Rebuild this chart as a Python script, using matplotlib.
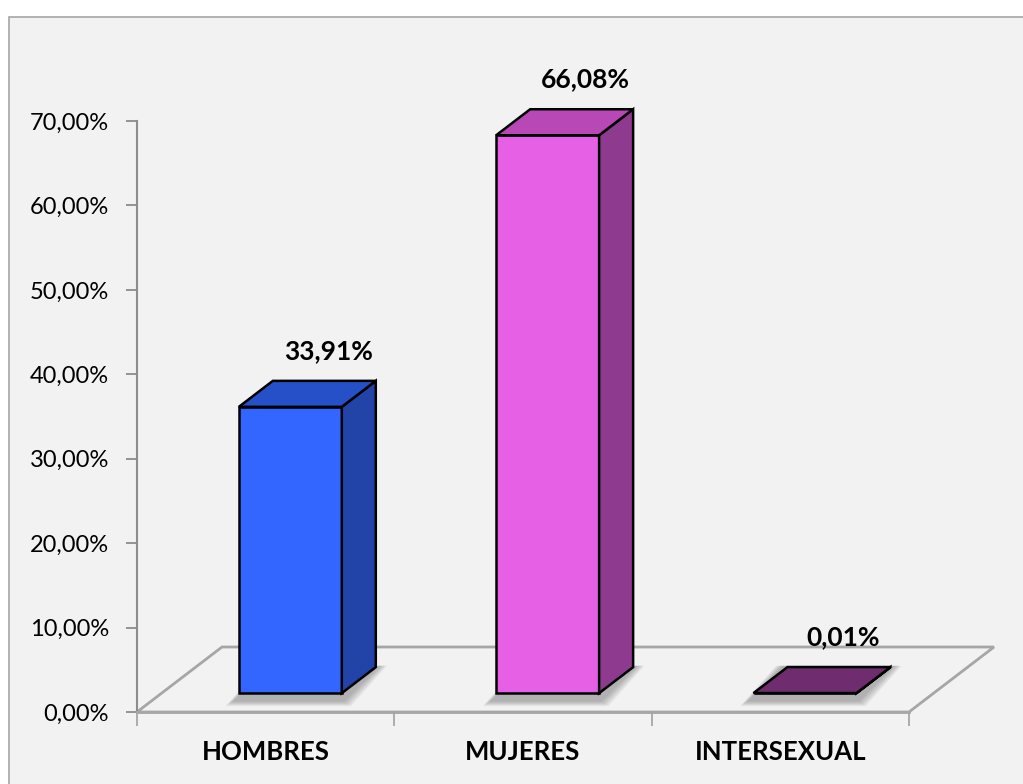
import matplotlib.pyplot as plt
from matplotlib.patches import Polygon, Rectangle
from matplotlib.ticker import FixedLocator, FuncFormatter

categorias = ['HOMBRES', 'MUJERES', 'INTERSEXUAL']
porcentajes = [33.91, 66.08, 0.01]
etiquetas = ['33,91%', '66,08%', '0,01%']

frente = ['#3366FF', '#E660E6', '#8A3A8A']
lado = ['#2244A8', '#8E3A8E', '#6A2A6A']
tapa = ['#2550C8', '#B848B6', '#6F2C6E']

plt.rcParams['font.family'] = ['Lato', 'DejaVu Sans']

fig = plt.figure(figsize=(10.23, 7.84), dpi=100)
fig.patch.set_facecolor('white')

# marco del grafico
fig.patches.append(Rectangle((9 / 1023, -0.05), 1.2, 1 - 17 / 784 + 0.05,
                             transform=fig.transFigure, facecolor='#F2F2F2',
                             edgecolor='#A6A6A6', linewidth=1.2, zorder=-5))

W, H = 1023, 784
ax = fig.add_axes([137 / W, (H - 712) / H, 772 / W, (712 - 121) / H])
ax.set_facecolor('none')
ax.set_xlim(0, 3)
ax.set_ylim(0, 70)

# profundidad del piso en unidades de datos
DX = 85 / (772 / 3)
DY = 65 / ((712 - 121) / 70)
d0, d1 = 0.29, 0.69
ancho = 0.40


def p(x, y, d):
    return (x + d * DX, y + d * DY)


# piso
piso = [p(0, 0, 0), p(3, 0, 0), p(3, 0, 1), p(0, 0, 1)]
ax.add_patch(Polygon(piso, closed=True, facecolor='#F2F2F2', edgecolor='#A6A6A6',
                     linewidth=2, clip_on=False, zorder=1))

for i, (v, lab) in enumerate(zip(porcentajes, etiquetas)):
    c = i + 0.5
    xl, xr = c - ancho / 2, c + ancho / 2
    # sombra suave en la base
    for k in range(8):
        e = 0.004 * (k + 1)
        sombra = [p(xl - 0.02 - e, -0.9 - e * 20, d0), p(xr + 0.005 + e, -0.9 - e * 20, d0),
                  p(xr + 0.005 + e, 0, d1 + 0.02), p(xl - 0.02 - e, 0, d1 + 0.02)]
        ax.add_patch(Polygon(sombra, closed=True, facecolor='#505050', edgecolor='none',
                             alpha=0.06, clip_on=False, zorder=2))
    cara = [p(xl, 0, d0), p(xr, 0, d0), p(xr, v, d0), p(xl, v, d0)]
    costado = [p(xr, 0, d0), p(xr, 0, d1), p(xr, v, d1), p(xr, v, d0)]
    arriba = [p(xl, v, d0), p(xr, v, d0), p(xr, v, d1), p(xl, v, d1)]
    for pts, col in ((cara, frente[i]), (costado, lado[i]), (arriba, tapa[i])):
        ax.add_patch(Polygon(pts, closed=True, facecolor=col, edgecolor='black',
                             linewidth=1.8, joinstyle='miter', clip_on=False, zorder=3))
    tx, ty = p(c + 0.015, v, d1)
    ax.annotate(lab, (tx, ty), xytext=(0, 13), textcoords='offset points',
                ha='center', va='bottom', fontsize=19, fontweight='bold',
                annotation_clip=False, zorder=4)

for lado_eje in ('top', 'right'):
    ax.spines[lado_eje].set_visible(False)
ax.spines['left'].set_color('#8C8C8C')
ax.spines['left'].set_linewidth(1.5)
ax.spines['bottom'].set_color('#A6A6A6')
ax.spines['bottom'].set_linewidth(2)

ax.set_yticks(range(0, 71, 10))
ax.yaxis.set_major_formatter(FuncFormatter(lambda y, _: f'{y:.2f}'.replace('.', ',') + '%'))
ax.tick_params(axis='y', length=8, width=1.3, color='#8C8C8C', pad=12, labelsize=17)

ax.xaxis.set_major_locator(FixedLocator([0, 1, 2, 3]))
ax.xaxis.set_minor_locator(FixedLocator([0.5, 1.5, 2.5]))
ax.set_xticklabels([])
ax.set_xticklabels(categorias, minor=True, fontweight='bold', fontsize=18.5)
ax.tick_params(axis='x', which='major', length=10, width=1.3, color='#A6A6A6')
ax.tick_params(axis='x', which='minor', length=0, pad=20)

fig.savefig('out.png', dpi=100, facecolor=fig.get_facecolor())
